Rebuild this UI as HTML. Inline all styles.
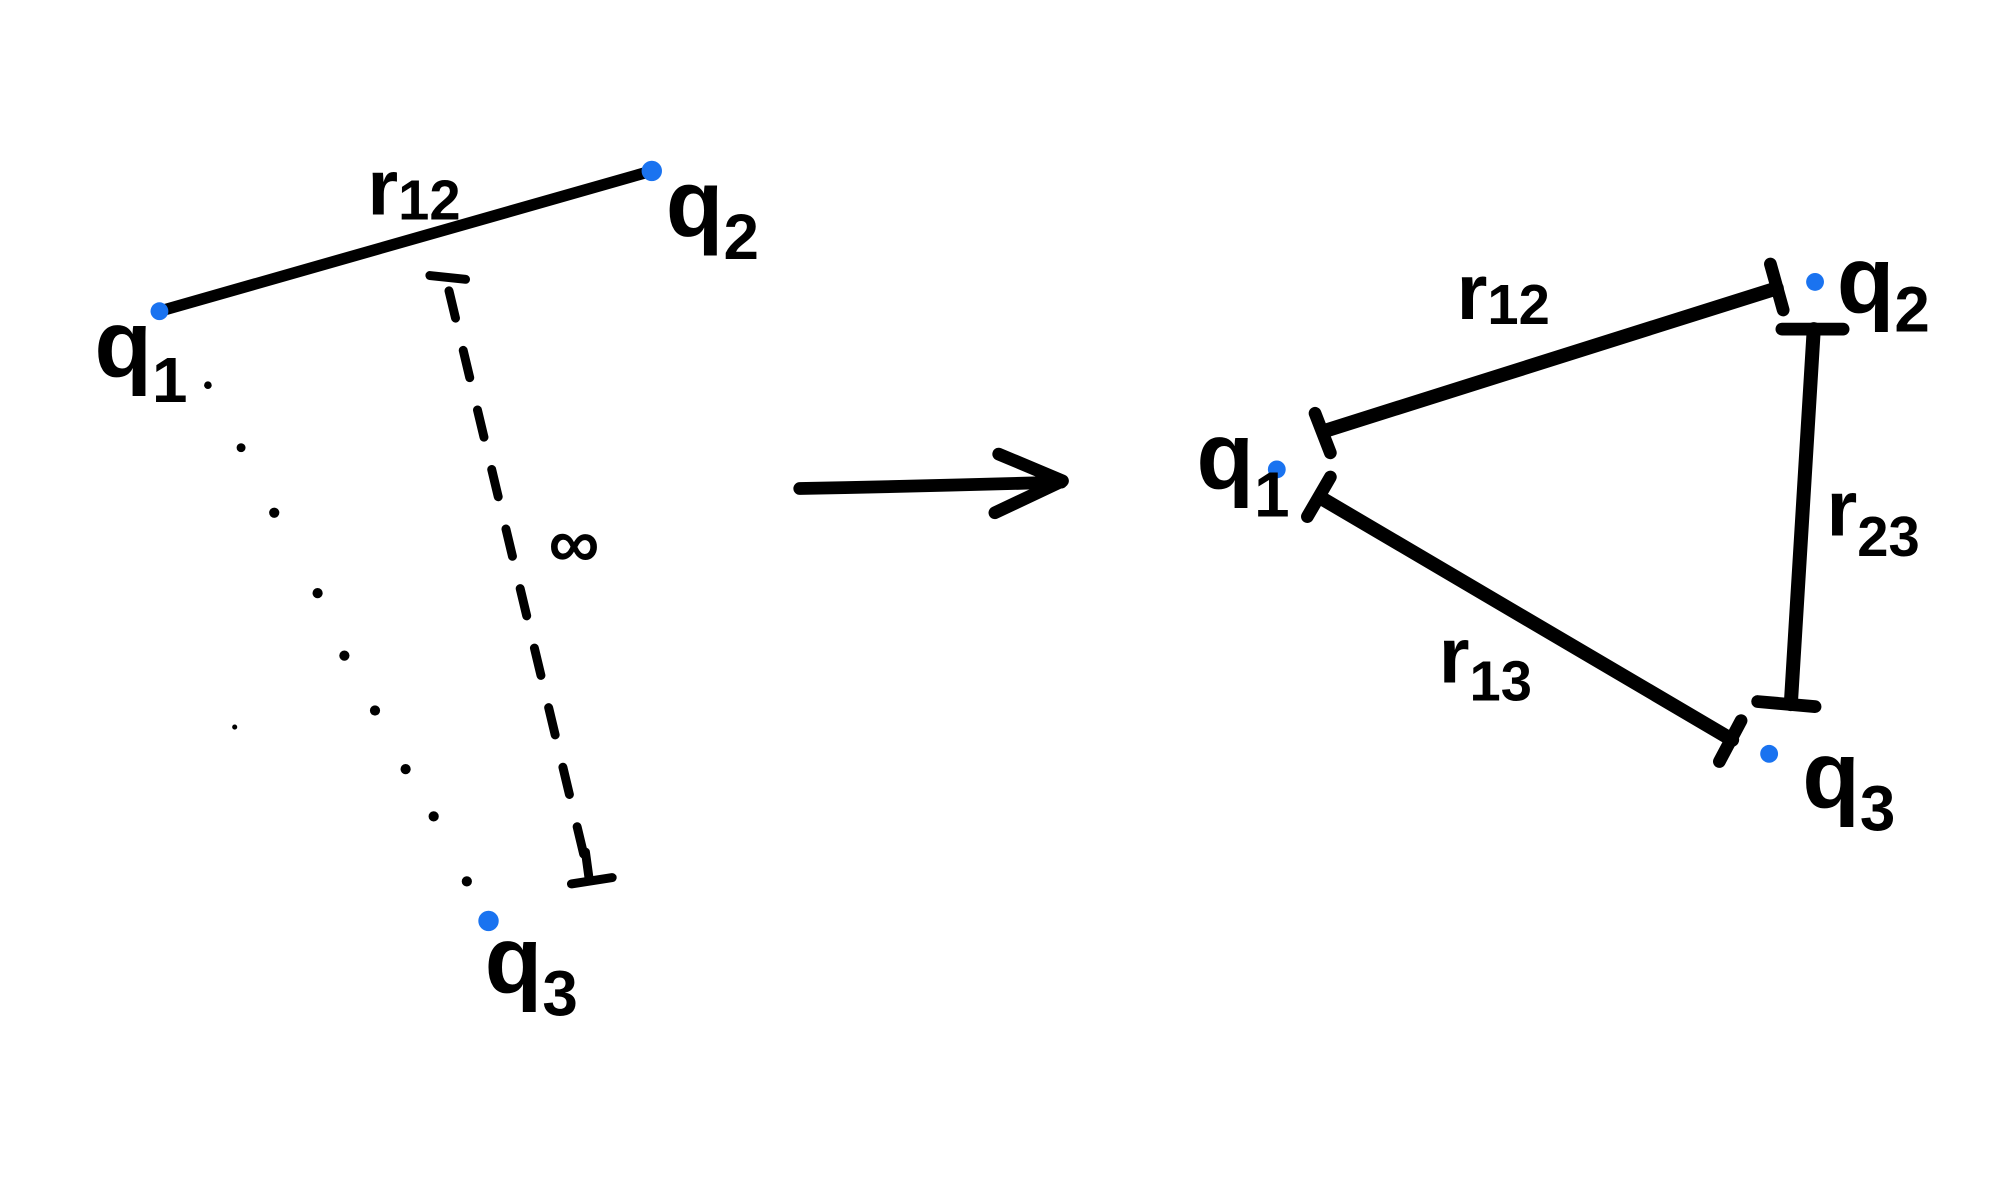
<!DOCTYPE html>
<html><head><meta charset="utf-8"><style>
html,body{margin:0;padding:0;background:#fff;}
svg{display:block;}
text{font-family:"Liberation Sans",sans-serif;font-weight:bold;fill:#000;}
</style></head><body>
<svg width="2000" height="1199" viewBox="0 0 1568 940" preserveAspectRatio="none" xmlns="http://www.w3.org/2000/svg">
<g stroke="#000" stroke-linecap="round" fill="none">
<line x1="125" y1="244" x2="511" y2="134" stroke-width="9"/>
<line x1="352" y1="228" x2="462" y2="688" stroke-width="7" stroke-dasharray="22,26"/>
<line x1="337" y1="216" x2="365" y2="219" stroke-width="7"/>
<line x1="448" y1="693" x2="480" y2="688" stroke-width="7"/>
<line x1="459" y1="668" x2="462" y2="690" stroke-width="7"/>
<path d="M627 383 Q730 381 832 378" stroke-width="10"/>
<path d="M783 356 L833 377 L780 402" stroke-width="10" stroke-linejoin="round"/>
<line x1="1038" y1="338" x2="1393" y2="226" stroke-width="11"/>
<line x1="1031" y1="324" x2="1043" y2="355" stroke-width="10"/>
<line x1="1388" y1="207" x2="1398" y2="243" stroke-width="10"/>
<line x1="1422" y1="258" x2="1404" y2="552" stroke-width="11"/>
<line x1="1397" y1="258" x2="1445" y2="258" stroke-width="10"/>
<line x1="1378" y1="550" x2="1423" y2="554" stroke-width="10"/>
<line x1="1035" y1="390" x2="1358" y2="580" stroke-width="11"/>
<line x1="1025" y1="405" x2="1043" y2="374" stroke-width="10"/>
<line x1="1348" y1="597" x2="1365" y2="565" stroke-width="10"/>
</g>
<g fill="#000">
<circle cx="163" cy="302" r="3"/><circle cx="189" cy="351" r="3.5"/><circle cx="215" cy="402" r="4"/>
<circle cx="249" cy="465" r="4"/><circle cx="270" cy="514" r="4"/><circle cx="294" cy="557" r="4"/>
<circle cx="318" cy="603" r="4"/><circle cx="340" cy="640" r="4"/><circle cx="366" cy="691" r="4"/>
<circle cx="184" cy="570" r="2"/>
</g>
<g fill="#1a73f0">
<circle cx="125" cy="244" r="7"/><circle cx="511" cy="134" r="8"/><circle cx="383" cy="722" r="8"/>
<circle cx="1001" cy="368" r="7"/><circle cx="1423" cy="221" r="7"/><circle cx="1387" cy="591" r="7"/>
</g>
<text x="288" y="168" font-size="62">r<tspan font-size="44" dy="4">12</tspan></text>
<text x="522" y="185" font-size="74">q<tspan font-size="50" dy="18">2</tspan></text>
<text x="74" y="295" font-size="74">q<tspan font-size="50" dy="20">1</tspan></text>
<text x="380" y="778" font-size="74">q<tspan font-size="50" dy="18">3</tspan></text>
<text x="430" y="445" font-size="56">∞</text>
<text x="1142" y="250" font-size="62">r<tspan font-size="44" dy="4">12</tspan></text>
<text x="1432" y="420" font-size="62">r<tspan font-size="44" dy="16">23</tspan></text>
<text x="1128" y="535" font-size="62">r<tspan font-size="44" dy="14">13</tspan></text>
<text x="938" y="383" font-size="74">q<tspan font-size="50" dy="22">1</tspan></text>
<text x="1440" y="245" font-size="74">q<tspan font-size="50" dy="15">2</tspan></text>
<text x="1413" y="633" font-size="74">q<tspan font-size="50" dy="18">3</tspan></text>
</svg>
</body></html>
